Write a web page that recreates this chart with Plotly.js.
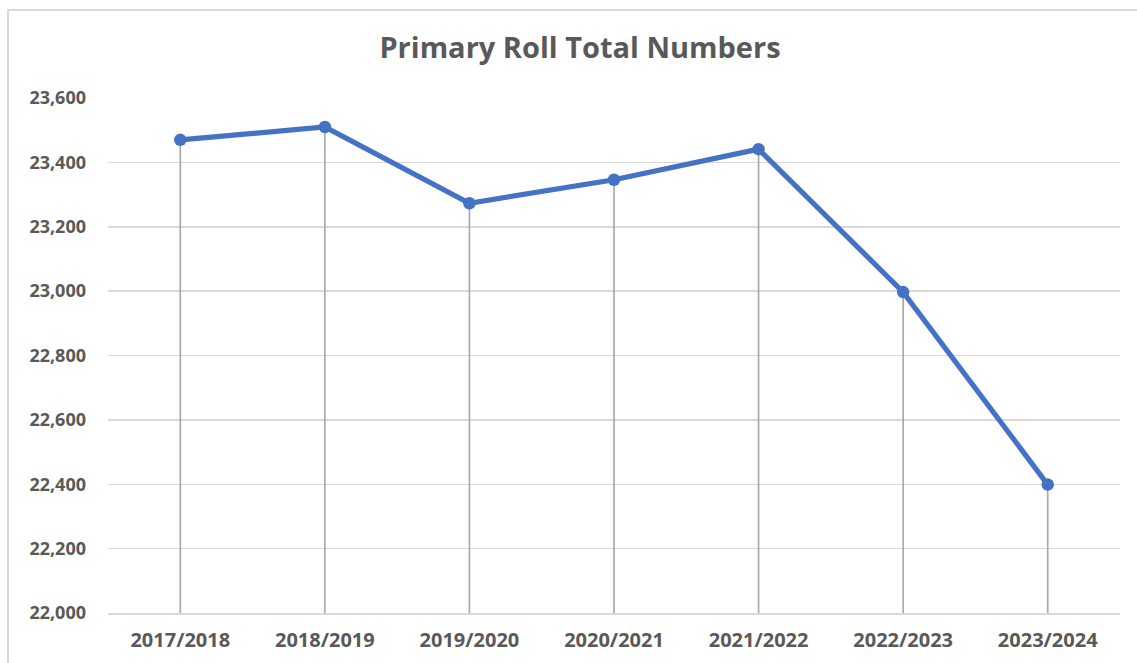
<!DOCTYPE html>
<html>
<head>
<meta charset="utf-8">
<script src="https://cdn.plot.ly/plotly-3.0.1.min.js"></script>
<style>
  html, body { margin: 0; padding: 0; background: #ffffff; overflow: hidden; }
  #wrap { position: relative; width: 1137px; height: 663px; }
  #chart { position: absolute; left: 0; top: 0; width: 1137px; height: 663px; }
  #frame { position: absolute; left: 7px; top: 9px; width: 1200px; height: 700px;
           border-left: 2px solid #d9d9d9; border-top: 2px solid #d9d9d9; pointer-events: none; }
</style>
</head>
<body>
<div id="wrap">
  <div id="chart"></div>
  <div id="frame"></div>
</div>
<script>
const chartTitle = "Primary Roll Total Numbers";
const years = ["2017/2018", "2018/2019", "2019/2020", "2020/2021", "2021/2022", "2022/2023", "2023/2024"];
const rollTotals = [23470, 23510, 23273, 23346, 23441, 22997, 22399];
const yTickValues = [22000, 22200, 22400, 22600, 22800, 23000, 23200, 23400, 23600];
const yTickLabels = ["22,000", "22,200", "22,400", "22,600", "22,800", "23,000", "23,200", "23,400", "23,600"];
const yMin = 22000, yMax = 23600;

// drop lines from each point to the axis floor
const dropX = [], dropY = [];
years.forEach((y, i) => { dropX.push(y, y, null); dropY.push(rollTotals[i], yMin, null); });

const font = "'Open Sans', sans-serif";
const grey = "#595959";

const traces = [
  { x: dropX, y: dropY, type: "scatter", mode: "lines",
    line: { color: "#a6a6a6", width: 1.6 }, hoverinfo: "skip", showlegend: false },
  { x: years, y: rollTotals, type: "scatter", mode: "lines+markers",
    line: { color: "#4472C4", width: 5.2 },
    marker: { color: "#4472C4", size: 12.5 }, showlegend: false }
];

const layout = {
  width: 1137, height: 663,
  margin: { l: 108, r: 17, t: 98, b: 50 },
  paper_bgcolor: "#ffffff", plot_bgcolor: "#ffffff",
  title: { text: "<b>" + chartTitle + "</b>", x: 580 / 1137, xanchor: "center",
           y: 1 - 48 / 663, yref: "container", yanchor: "middle",
           font: { family: font, size: 29, color: grey } },
  xaxis: { type: "category", categoryarray: years, range: [-0.5, 6.5], automargin: false,
           showgrid: false, zeroline: false,
           showline: true, linecolor: "#d9d9d9", linewidth: 1.5, ticks: "",
           ticklabelstandoff: 8,
           tickfont: { family: font, size: 20, color: grey, weight: "bold" } },
  yaxis: { range: [yMin, yMax], tickvals: yTickValues, ticktext: yTickLabels, automargin: false,
           showgrid: true, gridcolor: "#d9d9d9", gridwidth: 1.5, zeroline: false,
           showline: false, ticks: "", ticklabelstandoff: 21,
           tickfont: { family: font, size: 18, color: grey, weight: "bold" } },
  font: { family: font }
};

Plotly.newPlot("chart", traces, layout, { displayModeBar: false, staticPlot: true });
</script>
</body>
</html>
